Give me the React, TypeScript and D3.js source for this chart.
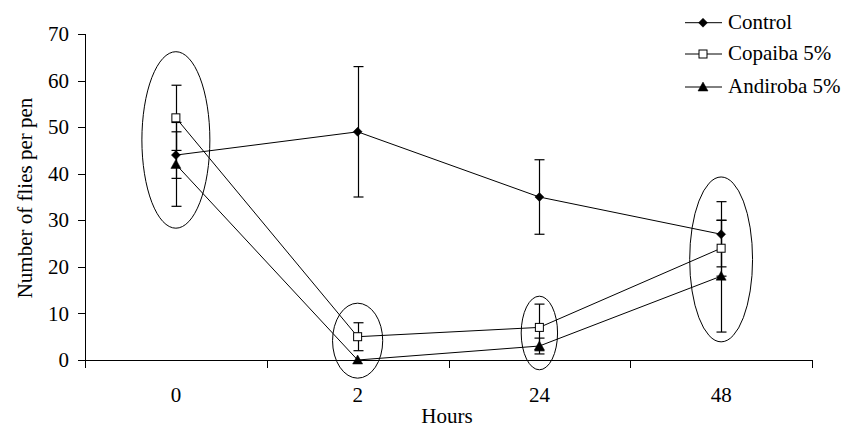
import React from "react";
import * as d3 from "d3";

const categories = ["0", "2", "24", "48"];
const yTicks = [0, 10, 20, 30, 40, 50, 60, 70];

const controlValues = [44, 49, 35, 27];
const controlErrors = [5, 14, 8, 7];
const copaibaValues = [52, 5, 7, 24];
const copaibaErrors = [7, 3, 5, 6];
const andirobaValues = [42, 0, 3, 18];
const andirobaErrors = [9, 0, 1.7, 12];

// annotation ellipses: category, low value, high value, half-width (fraction of band)
const ellipseCats = ["0", "2", "24", "48"];
const ellipseLow = [28.3, -3.9, -2.1, 3.9];
const ellipseHigh = [66.2, 12.2, 13.7, 39.3];
const ellipseHalfWidth = [0.187, 0.138, 0.1, 0.173];

const seriesNames = ["Control", "Copaiba 5%", "Andiroba 5%"];

const W = 848;
const H = 429;
const TS: React.CSSProperties = { fontFamily: '"Liberation Serif", "DejaVu Serif", serif', fontSize: 21 };

type Marker = "diamond" | "square" | "triangle";

function MarkerShape({ x, y, kind }: { x: number; y: number; kind: Marker }) {
  if (kind === "diamond") {
    const p = `M${x},${y - 4.5}L${x + 4.5},${y}L${x},${y + 4.5}L${x - 4.5},${y}Z`;
    return <path d={p} fill="#000" stroke="#000" strokeWidth={0.5} />;
  }
  if (kind === "square") {
    return <rect x={x - 4} y={y - 4} width={8} height={8} fill="#fff" stroke="#000" strokeWidth={1} />;
  }
  const p = `M${x},${y - 5}L${x + 5},${y + 4}L${x - 5},${y + 4}Z`;
  return <path d={p} fill="#000" stroke="#000" strokeWidth={0.5} />;
}

export default function App() {
  const x = d3.scaleBand<string>().domain(categories).range([85, 812]).padding(0);
  const y = d3.scaleLinear().domain([0, 70]).range([360, 34]);
  const cx = (c: string) => (x(c) as number) + x.bandwidth() / 2;

  const series = [
    { name: seriesNames[0], values: controlValues, errors: controlErrors, marker: "diamond" as Marker },
    { name: seriesNames[1], values: copaibaValues, errors: copaibaErrors, marker: "square" as Marker },
    { name: seriesNames[2], values: andirobaValues, errors: andirobaErrors, marker: "triangle" as Marker },
  ];

  const line = d3
    .line<number>()
    .x((_, i) => cx(categories[i]))
    .y((d) => y(d));

  const legendY = [22.7, 54, 87];

  return (
    <svg width={W} height={H} style={{ position: "absolute", left: 0, top: 0, background: "#fff" }}>
      <rect x={0} y={0} width={W} height={H} fill="#fff" />
      {/* Y axis */}
      <line x1={85.5} x2={85.5} y1={y(70)} y2={367} stroke="#000" strokeWidth={1} />
      {yTicks.map((t) => (
        <g key={t}>
          <line x1={78} x2={85.5} y1={Math.round(y(t)) + 0.5} y2={Math.round(y(t)) + 0.5} stroke="#000" />
          <text x={69} y={y(t)} dy="0.34em" textAnchor="end" style={TS} fill="#000">
            {t}
          </text>
        </g>
      ))}
      {/* X axis */}
      <line x1={85} x2={812} y1={360.5} y2={360.5} stroke="#000" strokeWidth={1} />
      {categories.concat(["__end"]).map((c, i) => {
        const xx = i < categories.length ? (x(c) as number) : 812;
        return <line key={c} x1={Math.round(xx) + 0.5} x2={Math.round(xx) + 0.5} y1={360} y2={368} stroke="#000" />;
      })}
      {categories.map((c) => (
        <text key={c} x={cx(c)} y={402} textAnchor="middle" style={TS} fill="#000">
          {c}
        </text>
      ))}
      <text x={447} y={423} textAnchor="middle" style={TS} fill="#000">
        Hours
      </text>
      <text transform={`translate(32,198) rotate(-90)`} textAnchor="middle" style={TS} fill="#000">
        Number of flies per pen
      </text>

      {/* Ellipses */}
      {ellipseCats.map((c, i) => {
        const top = y(ellipseHigh[i]);
        const bot = y(ellipseLow[i]);
        return (
          <ellipse
            key={"e" + c}
            cx={cx(c)}
            cy={(top + bot) / 2}
            rx={ellipseHalfWidth[i] * x.bandwidth()}
            ry={(bot - top) / 2}
            fill="none"
            stroke="#000"
            strokeWidth={1}
          />
        );
      })}

      {/* Lines */}
      {series.map((s) => (
        <path key={"l" + s.name} d={line(s.values) || ""} fill="none" stroke="#000" strokeWidth={1} />
      ))}

      {/* Error bars */}
      {series.map((s) =>
        s.values.map((v, i) => {
          const e = s.errors[i];
          if (!e) return null;
          const xx = Math.round(cx(categories[i])) + 0.5;
          const hi = y(v + e);
          const lo = y(Math.max(0, v - e));
          return (
            <g key={"eb" + s.name + i}>
              <line x1={xx} x2={xx} y1={hi} y2={lo} stroke="#000" strokeWidth={1.2} />
              <line x1={xx - 5} x2={xx + 5} y1={hi} y2={hi} stroke="#000" strokeWidth={1.2} />
              <line x1={xx - 5} x2={xx + 5} y1={lo} y2={lo} stroke="#000" strokeWidth={1.2} />
            </g>
          );
        })
      )}

      {/* Markers */}
      {series.map((s) =>
        s.values.map((v, i) => (
          <MarkerShape key={"m" + s.name + i} x={cx(categories[i])} y={y(v)} kind={s.marker} />
        ))
      )}

      {/* Legend */}
      {series.map((s, i) => (
        <g key={"lg" + s.name}>
          <line x1={685} x2={722} y1={legendY[i]} y2={legendY[i]} stroke="#000" strokeWidth={1} />
          <MarkerShape x={703} y={legendY[i]} kind={s.marker} />
          <text x={728} y={legendY[i]} dy="0.3em" style={TS} fill="#000">
            {s.name}
          </text>
        </g>
      ))}
    </svg>
  );
}
